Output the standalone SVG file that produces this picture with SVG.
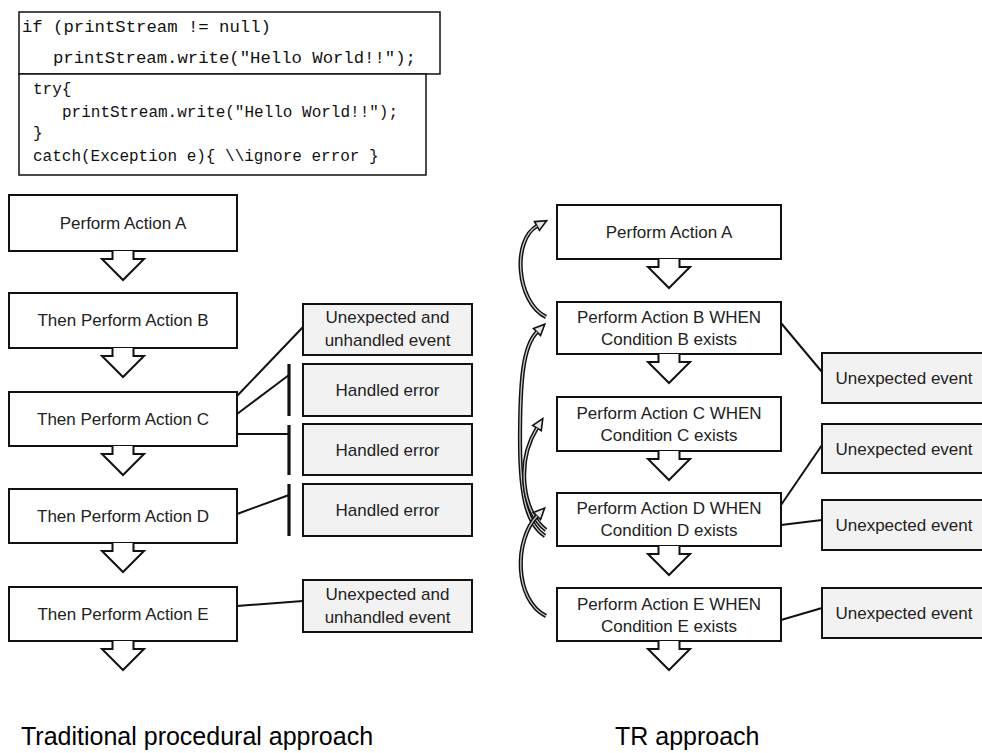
<svg xmlns="http://www.w3.org/2000/svg" width="982" height="753" viewBox="0 0 982 753">
  <style>
    .code { font-family: "Liberation Mono", "DejaVu Sans Mono", monospace; fill: #111; }
    .box { fill: #fff; stroke: #111; stroke-width: 2; }
    .evt { fill: #f2f2f2; stroke: #111; stroke-width: 2; }
    .cbox { fill: #fff; stroke: #111; stroke-width: 1.5; }
    .lbl { font-family: "Liberation Sans", Arial, sans-serif; font-size: 17px; fill: #222; text-anchor: middle; }
    .cap { font-family: "Liberation Sans", Arial, sans-serif; font-size: 25px; fill: #000; }
    .down { fill: #fff; stroke: #111; stroke-width: 2; stroke-linejoin: miter; }
    .link { fill: none; stroke: #111; stroke-width: 2; }
    .bar { fill: none; stroke: #111; stroke-width: 3.2; }
    .band { fill: none; stroke: #111; stroke-width: 4.2; stroke-linecap: butt; }
    .band-in { fill: none; stroke: #c8c8c8; stroke-width: 1.3; stroke-linecap: butt; }
  </style>
  <defs>
    <marker id="curl-head" markerUnits="userSpaceOnUse" markerWidth="16" markerHeight="16" refX="2" refY="8" orient="auto">
      <path d="M2,3 L13,8 L2,13 Z" fill="#e6e6e6" stroke="#111" stroke-width="1.6" stroke-linejoin="miter"/>
    </marker>
  </defs>

  <!-- code snippets -->
  <g id="code-if">
    <rect class="cbox" x="19" y="12" width="421" height="62"/>
    <text class="code" font-size="17.3" x="22" y="32">if (printStream != null)</text>
    <text class="code" font-size="17.3" x="53" y="63">printStream.write("Hello World!!");</text>
  </g>
  <g id="code-try">
    <rect class="cbox" x="19" y="74" width="407" height="101"/>
    <text class="code" font-size="16" x="33" y="94">try{</text>
    <text class="code" font-size="16" x="62" y="117">printStream.write("Hello World!!");</text>
    <text class="code" font-size="16" x="33" y="138">}</text>
    <text class="code" font-size="16" x="33" y="161">catch(Exception e){ \\ignore error }</text>
  </g>

  <!-- connectors -->
  <g id="connectors">
    <!-- procedural: links to outcomes -->
    <line class="link" x1="237" y1="396" x2="303" y2="327"/>
    <line class="link" x1="237" y1="414" x2="289" y2="375"/>
    <line class="link" x1="237" y1="434" x2="289" y2="434"/>
    <line class="link" x1="237" y1="514" x2="289" y2="495"/>
    <line class="link" x1="237" y1="606" x2="303" y2="601"/>
    <!-- error barriers -->
    <line class="bar" x1="289" y1="364" x2="289" y2="416"/>
    <line class="bar" x1="289" y1="425" x2="289" y2="475"/>
    <line class="bar" x1="289" y1="484" x2="289" y2="536"/>
    <!-- TR: links to unexpected events -->
    <line class="link" x1="781" y1="323" x2="822" y2="372"/>
    <line class="link" x1="781" y1="505" x2="822" y2="445"/>
    <line class="link" x1="781" y1="525" x2="822" y2="520"/>
    <line class="link" x1="781" y1="620" x2="822" y2="608"/>
    <!-- TR: curved fall-back arrows -->
    <path class="band" d="M546,317 C516,302 512,240 537,226" marker-end="url(#curl-head)"/>
    <path class="band-in" d="M546,317 C516,302 512,240 537,226"/>
    <path class="band" d="M545,536 C528,525 520,500 520,440 C520,380 523,346 537,332" marker-end="url(#curl-head)"/>
    <path class="band-in" d="M545,536 C528,525 520,500 520,440 C520,380 523,346 537,332"/>
    <path class="band" d="M546,530 C522,512 516,462 537,428" marker-end="url(#curl-head)"/>
    <path class="band-in" d="M546,530 C522,512 516,462 537,428"/>
    <path class="band" d="M546,616 C514,600 514,540 537,516" marker-end="url(#curl-head)"/>
    <path class="band-in" d="M546,616 C514,600 514,540 537,516"/>
  </g>

  <!-- procedural column -->
  <g id="proc-a">
    <rect class="box" x="9" y="195" width="228" height="56"/>
    <text class="lbl" x="123" y="229">Perform Action A</text>
    <path class="down" d="M112.5,251 V259 H102 L123,280 L144,259 H133.5 V251"/>
  </g>
  <g id="proc-b">
    <rect class="box" x="9" y="293" width="228" height="55"/>
    <text class="lbl" x="123" y="326">Then Perform Action B</text>
    <path class="down" d="M112.5,348 V356 H102 L123,377 L144,356 H133.5 V348"/>
  </g>
  <g id="proc-c">
    <rect class="box" x="9" y="392" width="228" height="54"/>
    <text class="lbl" x="123" y="425">Then Perform Action C</text>
    <path class="down" d="M112.5,446 V454 H102 L123,475 L144,454 H133.5 V446"/>
  </g>
  <g id="proc-d">
    <rect class="box" x="9" y="489" width="228" height="54"/>
    <text class="lbl" x="123" y="522">Then Perform Action D</text>
    <path class="down" d="M112.5,543 V551 H102 L123,572 L144,551 H133.5 V543"/>
  </g>
  <g id="proc-e">
    <rect class="box" x="9" y="587" width="228" height="54"/>
    <text class="lbl" x="123" y="620">Then Perform Action E</text>
    <path class="down" d="M112.5,641 V649 H102 L123,670 L144,649 H133.5 V641"/>
  </g>

  <!-- procedural outcomes -->
  <g id="proc-unhandled-1">
    <rect class="evt" x="303" y="304" width="169" height="51"/>
    <text class="lbl" x="387.5" y="323">Unexpected and</text>
    <text class="lbl" x="387.5" y="346">unhandled event</text>
  </g>
  <g id="proc-handled-1">
    <rect class="evt" x="303" y="364" width="169" height="52"/>
    <text class="lbl" x="387.5" y="396">Handled error</text>
  </g>
  <g id="proc-handled-2">
    <rect class="evt" x="303" y="424" width="169" height="51"/>
    <text class="lbl" x="387.5" y="456">Handled error</text>
  </g>
  <g id="proc-handled-3">
    <rect class="evt" x="303" y="484" width="169" height="52"/>
    <text class="lbl" x="387.5" y="516">Handled error</text>
  </g>
  <g id="proc-unhandled-2">
    <rect class="evt" x="303" y="580" width="169" height="52"/>
    <text class="lbl" x="387.5" y="600">Unexpected and</text>
    <text class="lbl" x="387.5" y="623">unhandled event</text>
  </g>

  <!-- TR column -->
  <g id="tr-a">
    <rect class="box" x="557" y="205" width="224" height="54"/>
    <text class="lbl" x="669" y="238">Perform Action A</text>
    <path class="down" d="M658.5,259 V267 H648 L669,288 L690,267 H679.5 V259"/>
  </g>
  <g id="tr-b">
    <rect class="box" x="557" y="302" width="224" height="52"/>
    <text class="lbl" x="669" y="323">Perform Action B WHEN</text>
    <text class="lbl" x="669" y="345">Condition B exists</text>
    <path class="down" d="M658.5,354 V362 H648 L669,383 L690,362 H679.5 V354"/>
  </g>
  <g id="tr-c">
    <rect class="box" x="557" y="397" width="224" height="54"/>
    <text class="lbl" x="669" y="419">Perform Action C WHEN</text>
    <text class="lbl" x="669" y="441">Condition C exists</text>
    <path class="down" d="M658.5,451 V459 H648 L669,480 L690,459 H679.5 V451"/>
  </g>
  <g id="tr-d">
    <rect class="box" x="557" y="493" width="224" height="53"/>
    <text class="lbl" x="669" y="514">Perform Action D WHEN</text>
    <text class="lbl" x="669" y="536">Condition D exists</text>
    <path class="down" d="M658.5,546 V554 H648 L669,575 L690,554 H679.5 V546"/>
  </g>
  <g id="tr-e">
    <rect class="box" x="557" y="588" width="224" height="53"/>
    <text class="lbl" x="669" y="610">Perform Action E WHEN</text>
    <text class="lbl" x="669" y="632">Condition E exists</text>
    <path class="down" d="M658.5,641 V649 H648 L669,670 L690,649 H679.5 V641"/>
  </g>

  <!-- TR outcomes -->
  <g id="tr-evt-b">
    <rect class="evt" x="822" y="353" width="170" height="50"/>
    <text class="lbl" x="904" y="384">Unexpected event</text>
  </g>
  <g id="tr-evt-d1">
    <rect class="evt" x="822" y="424" width="170" height="49"/>
    <text class="lbl" x="904" y="455">Unexpected event</text>
  </g>
  <g id="tr-evt-d2">
    <rect class="evt" x="822" y="500" width="170" height="50"/>
    <text class="lbl" x="904" y="531">Unexpected event</text>
  </g>
  <g id="tr-evt-e">
    <rect class="evt" x="822" y="588" width="170" height="50"/>
    <text class="lbl" x="904" y="619">Unexpected event</text>
  </g>

  <!-- captions -->
  <text class="cap" x="21" y="745">Traditional procedural approach</text>
  <text class="cap" x="615" y="745">TR approach</text>
</svg>
